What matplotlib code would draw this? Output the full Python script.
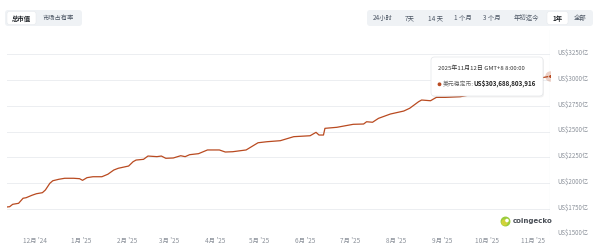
import matplotlib
matplotlib.use('Agg')
import matplotlib.pyplot as plt
import matplotlib.dates as mdates
from matplotlib.patches import FancyBboxPatch, Ellipse
from matplotlib.transforms import ScaledTranslation
import pandas as pd

plt.rcParams['font.family'] = ['Noto Sans CJK SC', 'DejaVu Sans']

# ---- data (美元稳定币总市值, 单位: 亿美元) ----
dates = ['2024-11-12', '2024-11-14', '2024-11-16', '2024-11-20', '2024-11-23', '2024-11-25',
         '2024-11-29', '2024-12-02', '2024-12-06', '2024-12-08', '2024-12-11', '2024-12-13',
         '2024-12-17', '2024-12-21', '2024-12-27', '2024-12-31', '2025-01-02', '2025-01-05',
         '2025-01-09', '2025-01-15', '2025-01-19', '2025-01-23', '2025-01-26', '2025-02-02',
         '2025-02-05', '2025-02-07', '2025-02-12', '2025-02-15', '2025-02-21', '2025-02-24',
         '2025-02-27', '2025-03-04', '2025-03-09', '2025-03-12', '2025-03-15', '2025-03-21',
         '2025-03-27', '2025-04-04', '2025-04-08', '2025-04-13', '2025-04-22', '2025-04-30',
         '2025-05-06', '2025-05-15', '2025-05-24', '2025-06-04', '2025-06-08', '2025-06-10',
         '2025-06-13', '2025-06-14', '2025-06-22', '2025-07-03', '2025-07-10', '2025-07-12',
         '2025-07-16', '2025-07-20', '2025-07-28', '2025-08-06', '2025-08-10', '2025-08-16',
         '2025-08-18', '2025-08-24', '2025-08-26', '2025-08-28', '2025-09-03', '2025-09-13',
         '2025-09-26', '2025-10-10', '2025-10-23', '2025-11-06', '2025-11-12']
values = [1768, 1771, 1794, 1804, 1853, 1858,
          1882, 1897, 1907, 1933, 1998, 2023,
          2037, 2047, 2047, 2043, 2027, 2053,
          2062, 2062, 2086, 2127, 2144, 2166,
          2208, 2224, 2231, 2263, 2257, 2263,
          2241, 2244, 2266, 2257, 2276, 2286,
          2322, 2322, 2302, 2305, 2322, 2392,
          2402, 2412, 2451, 2460, 2493, 2467,
          2467, 2532, 2542, 2571, 2574, 2596,
          2591, 2629, 2671, 2700, 2727, 2791,
          2807, 2800, 2817, 2833, 2833, 2839,
          2875, 2924, 2963, 3021, 3036.89]

y_ticks = [1500, 1750, 2000, 2250, 2500, 2750, 3000, 3250]
y_tick_labels = ['US$1500亿', 'US$1750亿', 'US$2000亿', 'US$2250亿',
                 'US$2500亿', 'US$2750亿', 'US$3000亿', 'US$3250亿']
x_tick_dates = ['2024-12-01', '2025-01-01', '2025-02-01', '2025-03-01', '2025-04-01',
                '2025-05-01', '2025-06-01', '2025-07-01', '2025-08-01', '2025-09-01',
                '2025-10-01', '2025-11-01']
x_tick_labels = ["12月 '24", "1月 '25", "2月 '25", "3月 '25", "4月 '25", "5月 '25",
                 "6月 '25", "7月 '25", "8月 '25", "9月 '25", "10月 '25", "11月 '25"]

range_buttons = ['24小时', '7天', '14 天', '1 个月', '3 个月', '年初迄今', '1年', '全部']
tooltip_date = '2025年11月12日 GMT+8 8:00:00'
tooltip_name = '美元稳定币:'
tooltip_value = 'US$303,688,803,916'

LINE = '#b94a20'
LABEL = '#8a9099'
W, H = 600, 250

def fx(x):
    return x / W

def fy(y):
    return 1 - y / H

x = pd.to_datetime(dates)

fig = plt.figure(figsize=(6, 2.5), dpi=100)
fig.patch.set_facecolor('white')

ax = fig.add_axes([fx(6.7), 15.4 / H, (549.5 - 6.7) / W, 204.6 / H])
ax.set_facecolor('white')
ax.plot(x, values, color=LINE, lw=0.9, solid_joinstyle='round', zorder=3)
ax.set_xlim(x[0], x[-1])
ax.set_ylim(1500, 3487)

ax.axvline(x[-1], color='#d9dce1', lw=0.8, zorder=2)
ax.plot([x[-1]], [values[-1]], 'o', ms=7.5, color=LINE, alpha=0.25, mec='none', zorder=4)
ax.plot([x[-1]], [values[-1]], 'o', ms=2.6, color=LINE, mec='white', mew=0.4, zorder=5)

for s in ax.spines.values():
    s.set_visible(False)

ax.set_yticks(y_ticks)
ax.set_yticklabels(y_tick_labels)
ax.yaxis.tick_right()
ax.tick_params(axis='y', length=0, pad=6.0, labelsize=4.4, labelcolor=LABEL)
ax.grid(axis='y', color='#eceef1', lw=0.7, zorder=0)
for lab in ax.get_yticklabels():
    lab.set_horizontalalignment('left')
    lab.set_transform(lab.get_transform() + ScaledTranslation(0, 2.5 / 100, fig.dpi_scale_trans))

ax.set_xticks(pd.to_datetime(x_tick_dates))
ax.set_xticklabels(x_tick_labels)
ax.tick_params(axis='x', length=0, pad=2.0, labelsize=4.6, labelcolor=LABEL)

def rbox(x0, y0, x1, y1, fc, ec='none', lw=0, r=3.0, z=5):
    p = FancyBboxPatch((fx(x0), fy(y1)), (x1 - x0) / W, (y1 - y0) / H,
                       boxstyle=f'round,pad=0,rounding_size={r / W}',
                       mutation_aspect=W / H, transform=fig.transFigure,
                       fc=fc, ec=ec, lw=lw, zorder=z)
    fig.add_artist(p)
    return p

# left toggle group
rbox(5, 10, 82, 26, '#eff2f5')
rbox(7, 11.5, 36, 24.5, 'white', ec='#e3e6ea', lw=0.3, r=2.5, z=6)
fig.text(fx(21.5), fy(18), '总市值', ha='center', va='center', fontsize=4.6,
         fontweight='bold', color='#1f2328', zorder=7)
fig.text(fx(58.5), fy(18), '市场占有率', ha='center', va='center', fontsize=4.5,
         color='#4b5563', zorder=7)

# right range group
rbox(367, 10, 593, 26, '#eff2f5')
rbox(547, 11.5, 568, 24.5, 'white', ec='#e3e6ea', lw=0.3, r=2.5, z=6)
btn_x = [383, 410, 435, 463, 492, 526, 557.5, 580]
for bx, lab in zip(btn_x, range_buttons):
    sel = lab == '1年'
    fig.text(fx(bx), fy(18), lab, ha='center', va='center', fontsize=4.6,
             fontweight='bold' if sel else 'normal',
             color='#1f2328' if sel else '#4b5563', zorder=7)

# tooltip
rbox(432, 58, 544, 97.5, '#000000', r=3.5, z=8).set_alpha(0.05)
rbox(431, 57, 543, 96, 'white', ec='#e4e6e9', lw=0.5, r=3.5, z=9)
fig.text(fx(438), fy(68), tooltip_date, ha='left', va='center', fontsize=4.3,
         color='#333333', zorder=10)
fig.add_artist(Ellipse((fx(439.5), fy(84.3)), 2.4 / W, 2.4 / H, transform=fig.transFigure,
                       color=LINE, zorder=10))
fig.text(fx(442.5), fy(84.3), tooltip_name, ha='left', va='center', fontsize=4.2,
         color='#666666', zorder=10)
fig.text(fx(474), fy(84.3), tooltip_value, ha='left', va='center', fontsize=4.5,
         fontweight='bold', color='#222222', zorder=10)

# watermark
fig.add_artist(Ellipse((fx(505.5), fy(221.5)), 8.5 / W, 8.5 / H, transform=fig.transFigure,
                       color='#9ccc3c', zorder=6))
fig.add_artist(Ellipse((fx(504.5), fy(222.5)), 5 / W, 5 / H, transform=fig.transFigure,
                       color='#e2d53a', alpha=0.7, zorder=6))
fig.add_artist(Ellipse((fx(507), fy(220.5)), 2.2 / W, 2.2 / H, transform=fig.transFigure,
                       color='white', zorder=7))
fig.text(fx(513), fy(221.5), 'coingecko', ha='left', va='center', fontsize=5.0,
         fontweight='bold', color='#4a4f57', family=['DejaVu Sans'], zorder=7)

fig.savefig('out.png', dpi=100, facecolor='white')
